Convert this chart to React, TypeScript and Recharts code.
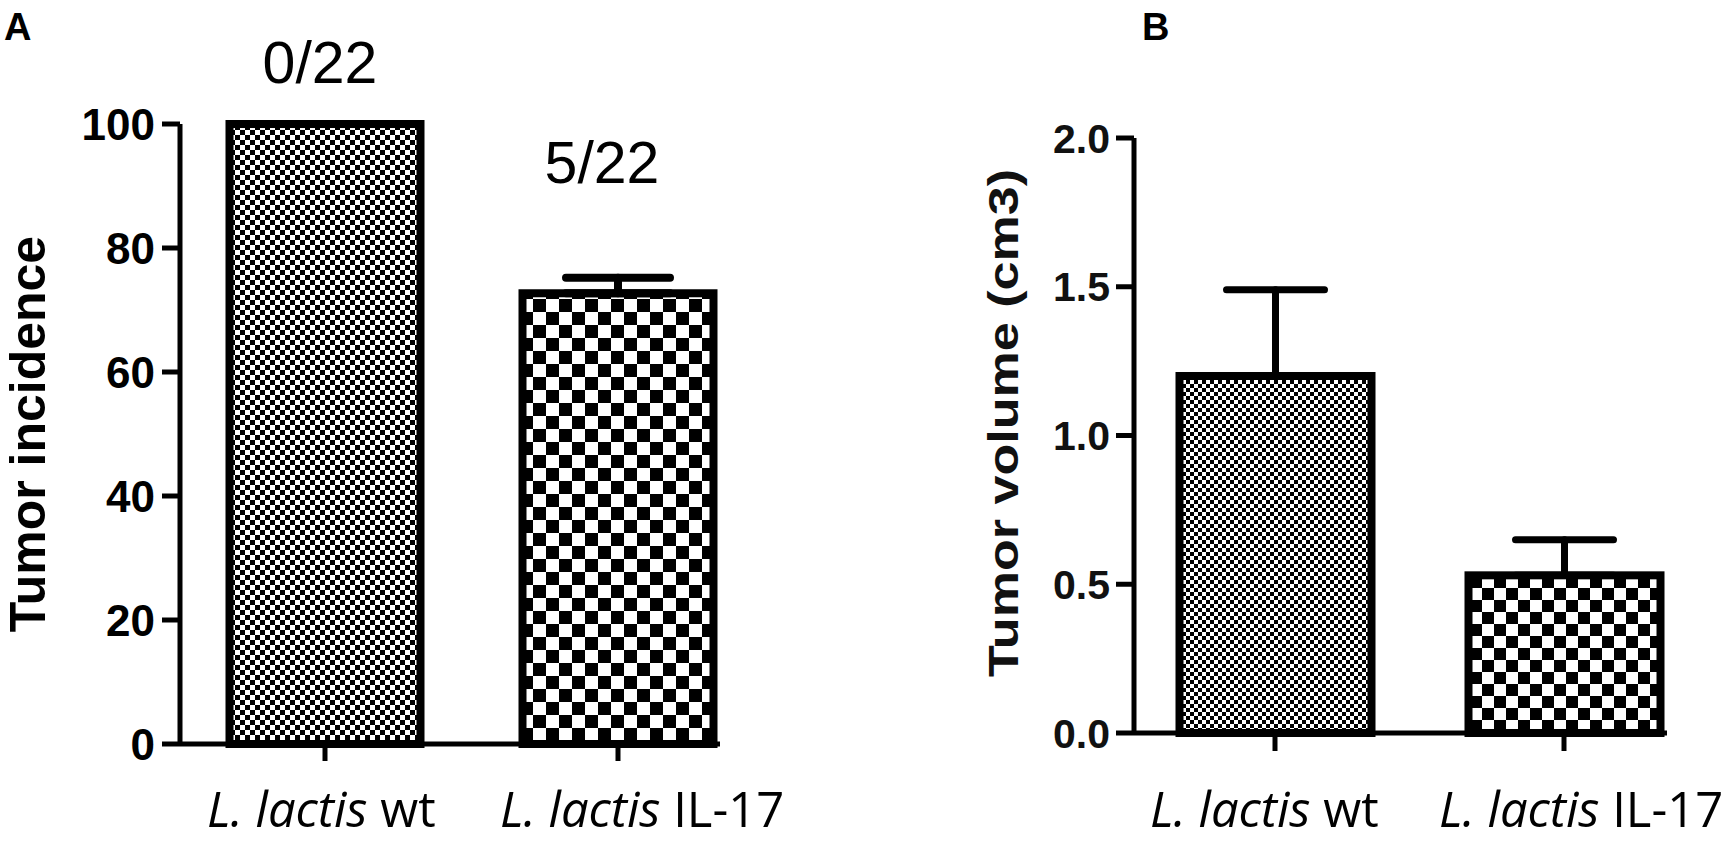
import React from "react";
import {
  BarChart,
  Bar,
  XAxis,
  YAxis,
  ErrorBar,
  LabelList,
  Cell,
} from "recharts";

// groups on the x axis (same in both panels)
const groups = ["L. lactis wt", "L. lactis IL-17"];
const species = "L. lactis";

// panel A: tumor incidence (%)
const incidence = [100, 72.7];
const incidenceErr = [0, 2.5];
const tumorFree = ["0/22", "5/22"];
const incidenceTicks = [0, 20, 40, 60, 80, 100];

// panel B: tumor volume (cm3)
const volume = [1.2, 0.53];
const volumeErr = [0.29, 0.12];
const volumeTicks = [0, 0.5, 1.0, 1.5, 2.0];

const dataA = groups.map((group, i) => ({
  group,
  value: incidence[i],
  err: [0, incidenceErr[i]],
  count: tumorFree[i],
}));

const dataB = groups.map((group, i) => ({
  group,
  value: volume[i],
  err: [0, volumeErr[i]],
}));

const ARIAL = "'Liberation Sans', Arial, sans-serif";
const LABEL_FONT = "'Open Sans', 'Noto Sans', sans-serif";
const axisStyle = { stroke: "#000", strokeWidth: 5 };

// checker patterns: cell sizes per panel / bar
const checkers = [
  { id: "a0", cell: 5 },
  { id: "a1", cell: 13 },
  { id: "b0", cell: 4 },
  { id: "b1", cell: 12 },
];

// lift / shift of the "n/22" labels above each bar
const countLift = [41, 110];
const countShift = [-5, -16];

const CheckBar = (props: any) => {
  const { x, y, width, height, fill } = props;
  if (!width || !height) return null;
  return (
    <rect x={x} y={y} width={width} height={height} fill={fill} stroke="#000" strokeWidth={8} />
  );
};

const GroupTick = (props: any) => {
  const { x, y, payload, lead, drop } = props;
  const rest = String(payload.value).slice(species.length);
  return (
    <text
      x={x - lead}
      y={y + drop}
      textAnchor="start"
      fontFamily={LABEL_FONT}
      fontSize={49}
      fill="#000"
      style={{ whiteSpace: "pre" }}
    >
      <tspan fontStyle="italic">{species}</tspan>
      <tspan>{rest}</tspan>
    </text>
  );
};

const CountLabel = (props: any) => {
  const { x, y, width, value, index } = props;
  return (
    <text
      x={x + width / 2 + countShift[index]}
      y={y - countLift[index]}
      textAnchor="middle"
      fontFamily={ARIAL}
      fontSize={59}
      fill="#000"
    >
      {value}
    </text>
  );
};

const App = () => {
  return (
    <div style={{ position: "relative", width: 1734, height: 841, background: "#fff" }}>
      <style>{`body{margin:0;background:#fff}`}</style>
      <svg
        width={1734}
        height={841}
        style={{ position: "absolute", left: 0, top: 0, pointerEvents: "none" }}
      >
        <defs>
          {checkers.map((c) => (
            <pattern
              key={c.id}
              id={c.id}
              width={c.cell * 2}
              height={c.cell * 2}
              patternUnits="userSpaceOnUse"
            >
              <rect width={c.cell * 2} height={c.cell * 2} fill="#fff" />
              <rect width={c.cell} height={c.cell} fill="#000" />
              <rect x={c.cell} y={c.cell} width={c.cell} height={c.cell} fill="#000" />
            </pattern>
          ))}
        </defs>
        <text x={4} y={40} fontFamily={ARIAL} fontWeight="bold" fontSize={38}>
          A
        </text>
        <text x={1142} y={40} fontFamily={ARIAL} fontWeight="bold" fontSize={38}>
          B
        </text>
      </svg>

      {/* Panel A */}
      <div style={{ position: "absolute", left: 0, top: 0 }}>
        <BarChart
          width={870}
          height={841}
          data={dataA}
          margin={{ top: 124, right: 150, bottom: 0, left: 0 }}
          barCategoryGap={0}
        >
          <XAxis
            dataKey="group"
            interval={0}
            height={97}
            tickSize={17}
            tickMargin={0}
            axisLine={axisStyle}
            tickLine={axisStyle}
            padding={{ left: -1.5, right: -44.5 }}
            tick={(p: any) => <GroupTick {...p} lead={118} drop={66} />}
          />
          <YAxis
            domain={[0, 100]}
            ticks={incidenceTicks}
            width={180}
            tickSize={18}
            tickMargin={7}
            axisLine={axisStyle}
            tickLine={axisStyle}
            tick={{ fill: "#000", fontSize: 44, fontWeight: "bold", fontFamily: ARIAL }}
            label={{
              content: () => (
                <text
                  transform="translate(45,434) rotate(-90)"
                  textAnchor="middle"
                  fontFamily={ARIAL}
                  fontWeight="bold"
                  fontSize={50}
                  fill="#000"
                >
                  Tumor incidence
                </text>
              ),
            }}
          />
          <Bar dataKey="value" barSize={191} shape={CheckBar} isAnimationActive={false}>
            {dataA.map((d, i) => (
              <Cell key={d.group} fill={`url(#a${i})`} />
            ))}
            <ErrorBar
              dataKey="err"
              direction="y"
              width={52}
              stroke="#000"
              strokeWidth={8}
              strokeLinecap="round"
              isAnimationActive={false}
            />
            <LabelList dataKey="count" content={CountLabel} />
          </Bar>
        </BarChart>
      </div>

      {/* Panel B */}
      <div style={{ position: "absolute", left: 870, top: 0 }}>
        <BarChart
          width={864}
          height={841}
          data={dataB}
          margin={{ top: 138, right: 67, bottom: 0, left: 0 }}
          barCategoryGap={0}
        >
          <XAxis
            dataKey="group"
            interval={0}
            height={108}
            tickSize={18}
            tickMargin={0}
            axisLine={axisStyle}
            tickLine={axisStyle}
            padding={{ left: -3.5, right: -41.5 }}
            tick={(p: any) => <GroupTick {...p} lead={125} drop={76} />}
          />
          <YAxis
            domain={[0, 2]}
            ticks={volumeTicks}
            width={264}
            tickSize={18}
            tickMargin={6}
            axisLine={axisStyle}
            tickLine={axisStyle}
            tickFormatter={(v: number) => v.toFixed(1)}
            tick={{ fill: "#111", fontSize: 41, fontWeight: "bold", fontFamily: ARIAL }}
            label={{
              content: () => (
                <text
                  transform="translate(148,423) rotate(-90) scale(1.24,1)"
                  textAnchor="middle"
                  fontFamily={ARIAL}
                  fontWeight="bold"
                  fontSize={42}
                  fill="#111"
                >
                  Tumor volume (cm3)
                </text>
              ),
            }}
          />
          <Bar dataKey="value" barSize={192} shape={CheckBar} isAnimationActive={false}>
            {dataB.map((d, i) => (
              <Cell key={d.group} fill={`url(#b${i})`} />
            ))}
            <ErrorBar
              dataKey="err"
              direction="y"
              width={49}
              stroke="#000"
              strokeWidth={7}
              strokeLinecap="round"
              isAnimationActive={false}
            />
          </Bar>
        </BarChart>
      </div>
    </div>
  );
};

export default App;
